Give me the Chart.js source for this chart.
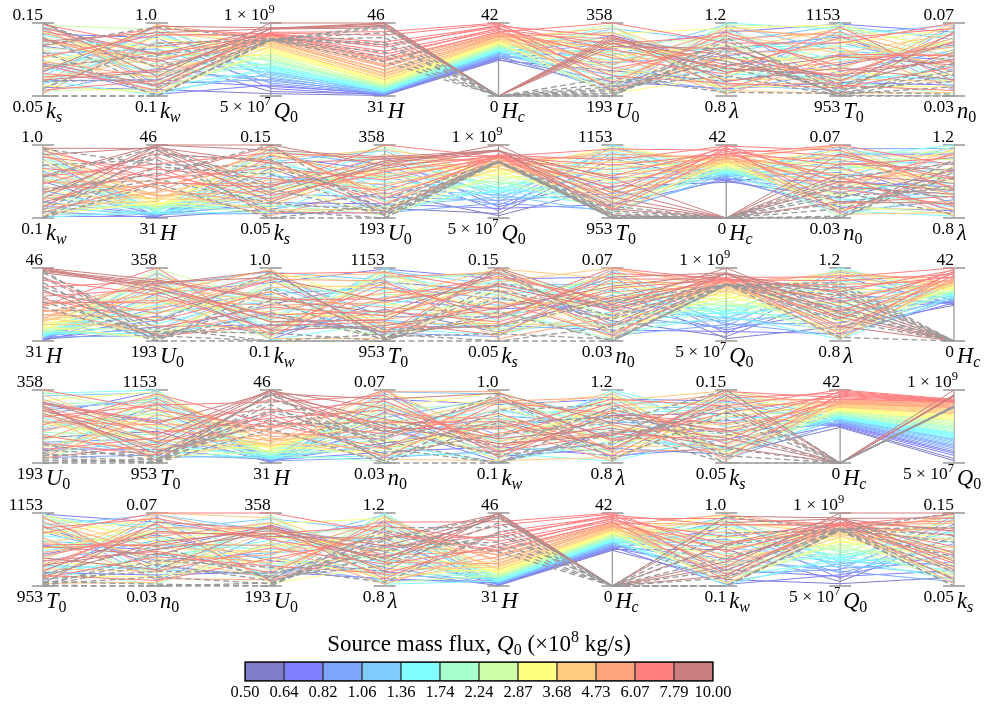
<!DOCTYPE html>
<html>
<head>
<meta charset="utf-8">
<script src="https://cdn.jsdelivr.net/npm/chart.js@4.4.1/dist/chart.umd.min.js"></script>
<style>
  body { margin: 0; background: #fff; }
  #wrap { position: relative; width: 992px; height: 706px; overflow: hidden; }
  #wrap canvas { position: absolute; left: 0; }
</style>
</head>
<body>
<div id="wrap">
  <canvas id="p0" width="992" height="124" style="top:0px"></canvas>
  <canvas id="p1" width="992" height="124" style="top:122px"></canvas>
  <canvas id="p2" width="992" height="124" style="top:245px"></canvas>
  <canvas id="p3" width="992" height="124" style="top:367px"></canvas>
  <canvas id="p4" width="992" height="124" style="top:490px"></canvas>
  <canvas id="cbar" width="992" height="86" style="top:620px"></canvas>
</div>
<script>
// one entry per model run; runs grouped by source flux bin, failed runs last
// Q0 in units of 1e8 kg/s
const Q0 = [
  0.55, 0.60,
  0.68, 0.74, 0.79,
  0.85, 0.92, 0.98, 1.03,
  1.10, 1.17, 1.24, 1.30, 1.34,
  1.40, 1.47, 1.53, 1.60, 1.66, 1.71,
  1.80, 1.92, 2.05, 2.18,
  2.30, 2.45, 2.62, 2.80,
  2.95, 3.10, 3.28, 3.45, 3.62,
  3.75, 3.95, 4.15, 4.35, 4.55, 4.70,
  4.85, 5.00, 5.20, 5.40, 5.60, 5.80, 6.00,
  6.10, 6.15, 6.20, 6.25, 6.30, 6.40, 6.50, 6.65, 6.85,
  7.80, 7.85, 7.95, 8.05, 8.20, 10.0,
  4.90, 5.00, 5.10, 5.00, 5.20, 4.95, 5.05, 5.15, 5.00
];
const H = [
  31.1, 31.4,
  31.2, 31.6, 31.3,
  31.5, 31.8, 31.4, 32.0,
  31.6, 32.1, 31.8, 32.4, 32.0,
  32.0, 32.3, 31.9, 32.6, 32.2, 32.8,
  32.5, 32.9, 33.2, 32.7,
  33.0, 33.4, 33.1, 33.8,
  33.5, 33.9, 34.2, 34.6, 34.0,
  34.4, 34.9, 35.3, 35.0, 35.8, 36.2,
  35.6, 36.4, 37.0, 37.5, 38.1, 37.2, 38.6,
  38.3, 39.6, 40.2, 39.0, 41.5, 42.1, 41.0, 43.5, 44.2,
  45.0, 45.5, 45.8, 46.0, 45.3, 46.0,
  38.0, 40.0, 41.5, 43.0, 44.0, 45.0, 45.5, 42.0, 39.0
];
const Hc = [
  20.5, 21.0,
  21.5, 22.0, 22.4,
  22.8, 23.2, 23.5, 24.0,
  24.2, 24.5, 24.9, 25.2, 25.5,
  25.6, 25.9, 26.2, 26.5, 26.8, 27.0,
  27.3, 27.7, 28.1, 28.5,
  28.8, 29.2, 29.6, 30.0,
  30.2, 30.6, 31.0, 31.4, 31.8,
  32.0, 32.4, 32.8, 33.2, 33.6, 34.0,
  34.2, 34.6, 35.0, 35.4, 35.8, 36.2, 36.6,
  36.8, 37.6, 38.4, 39.0, 39.6, 40.2, 40.8, 41.4, 42.0,
  0, 0, 0, 0, 0, 0,
  0, 0, 0, 0, 0, 0, 0, 0, 0
];
const ks = [
  0.062, 0.118,
  0.135, 0.071, 0.094,
  0.108, 0.056, 0.142, 0.083,
  0.127, 0.066, 0.099, 0.145, 0.078,
  0.088, 0.133, 0.059, 0.112, 0.071, 0.124,
  0.104, 0.141, 0.068, 0.091,
  0.147, 0.079, 0.116, 0.057,
  0.138, 0.096, 0.064, 0.121, 0.085,
  0.149, 0.074, 0.102, 0.131, 0.061, 0.113,
  0.087, 0.144, 0.069, 0.126, 0.097, 0.053, 0.136,
  0.092, 0.148, 0.076, 0.119, 0.058, 0.139, 0.104, 0.081, 0.128,
  0.072, 0.125, 0.095, 0.143, 0.084, 0.150,
  0.050, 0.150, 0.110, 0.060, 0.130, 0.050, 0.090, 0.120, 0.070
];
const kw = [
  0.18, 0.55,
  0.82, 0.30, 0.12,
  0.68, 0.44, 0.25, 0.90,
  0.36, 0.77, 0.15, 0.58, 0.95,
  0.22, 0.63, 0.87, 0.40, 0.11, 0.73,
  0.50, 0.28, 0.84, 0.66,
  0.92, 0.35, 0.60, 0.19,
  0.45, 0.81, 0.14, 0.70, 0.97,
  0.26, 0.57, 0.89, 0.38, 0.76, 0.13,
  0.64, 0.21, 0.98, 0.47, 0.33, 0.86, 0.54,
  0.17, 0.71, 0.42, 0.93, 0.29, 0.61, 0.85, 0.24, 0.52,
  0.40, 0.88, 0.23, 0.62, 0.96, 0.34,
  0.10, 0.45, 0.10, 0.75, 0.20, 0.10, 0.60, 0.95, 0.30
];
const U0 = [
  250, 215,
  300, 225, 330,
  268, 205, 312, 240,
  345, 220, 285, 258, 318,
  350, 232, 296, 210, 338, 275,
  262, 325, 200, 290,
  243, 308, 355, 218,
  282, 199, 334, 256, 304,
  228, 316, 270, 347, 212, 292,
  336, 246, 301, 207, 322, 264, 285,
  358, 238, 311, 279, 204, 328, 255, 297, 223,
  318, 326, 305, 331, 322, 312,
  193, 198, 205, 193, 214, 222, 200, 235, 209
];
const lam = [
  0.88, 1.06,
  1.15, 0.84, 0.97,
  1.02, 1.18, 0.90, 0.83,
  1.10, 0.95, 1.19, 0.86, 1.04,
  0.81, 1.13, 0.99, 1.20, 0.92, 1.07,
  1.16, 0.87, 1.01, 0.94,
  0.96, 1.12, 0.82, 1.19,
  1.08, 0.91, 1.17, 0.85, 1.00,
  1.14, 0.89, 1.05, 0.95, 1.18, 0.83,
  0.93, 1.11, 0.86, 1.03, 0.97, 1.16, 0.81,
  1.09, 0.87, 1.13, 0.92, 1.01, 0.84, 1.07, 0.96, 1.15,
  0.99, 0.93, 1.06, 0.88, 1.02, 0.95,
  1.08, 1.02, 0.96, 1.12, 0.91, 0.98, 1.05, 0.82, 1.10
];
const T0 = [
  1040, 1115,
  1150, 990, 1065,
  1100, 975, 1130, 1020,
  1145, 1010, 1075, 968, 1120,
  1153, 1050, 985, 1135, 1005, 1090,
  1030, 1125, 1060, 995,
  1110, 970, 1080, 1140,
  1015, 1095, 1148, 980, 1055,
  1070, 1000, 1138, 1025, 1105, 960,
  1045, 1128, 990, 1085, 1012, 1118, 1058,
  1098, 975, 1035, 1142, 1005, 1068, 982, 1112, 1022,
  978, 1062, 995, 1030, 960, 1010,
  953, 958, 953, 965, 953, 972, 955, 960, 985
];
const n0 = [
  0.058, 0.041,
  0.065, 0.036, 0.050,
  0.044, 0.068, 0.033, 0.055,
  0.061, 0.039, 0.052, 0.047, 0.069,
  0.034, 0.057, 0.046, 0.063, 0.040, 0.053,
  0.066, 0.043, 0.059, 0.031,
  0.049, 0.062, 0.037, 0.056,
  0.042, 0.067, 0.054, 0.035, 0.060,
  0.064, 0.038, 0.051, 0.070, 0.045, 0.032,
  0.057, 0.048, 0.069, 0.034, 0.062, 0.043, 0.053,
  0.070, 0.046, 0.059, 0.038, 0.064, 0.052, 0.033, 0.067, 0.049,
  0.054, 0.047, 0.060, 0.039, 0.065, 0.050,
  0.030, 0.035, 0.042, 0.031, 0.048, 0.038, 0.030, 0.044, 0.052
];
// 1 = run drawn as grey dashed line (last nine runs)
const failed = Q0.map((q, i) => (i >= Q0.length - 9 ? 1 : 0));

// axis definitions
const axisKeys     = ['ks', 'kw', 'Q0', 'H', 'Hc', 'U0', 'lam', 'T0', 'n0'];
const axisMin      = [0.05, 0.1, 0.5, 31, 0, 193, 0.8, 953, 0.03];
const axisMax      = [0.15, 1.0, 10, 46, 42, 358, 1.2, 1153, 0.07];
const axisLog      = [false, false, true, false, false, false, false, false, false];
const topLabels    = ['0.15', '1.0', '1 × 10^9', '46', '42', '358', '1.2', '1153', '0.07'];
const bottomLabels = ['0.05', '0.1', '5 × 10^7', '31', '0', '193', '0.8', '953', '0.03'];
const symbols      = [['k', 's'], ['k', 'w'], ['Q', '0'], ['H', ''], ['H', 'c'], ['U', '0'], ['λ', ''], ['T', '0'], ['n', '0']];

const panelOrders = [
  ['ks', 'kw', 'Q0', 'H', 'Hc', 'U0', 'lam', 'T0', 'n0'],
  ['kw', 'H', 'ks', 'U0', 'Q0', 'T0', 'Hc', 'n0', 'lam'],
  ['H', 'U0', 'kw', 'T0', 'ks', 'n0', 'Q0', 'lam', 'Hc'],
  ['U0', 'T0', 'H', 'n0', 'kw', 'lam', 'ks', 'Hc', 'Q0'],
  ['T0', 'n0', 'U0', 'lam', 'H', 'Hc', 'kw', 'Q0', 'ks']
];

// colour bar
const cbEdges  = [0.50, 0.64, 0.82, 1.06, 1.36, 1.74, 2.24, 2.87, 3.68, 4.73, 6.07, 7.79, 10.00];
const cbTicks  = ['0.50', '0.64', '0.82', '1.06', '1.36', '1.74', '2.24', '2.87', '3.68', '4.73', '6.07', '7.79', '10.00'];
const cbColors = ['#7f7fcc', '#7f7fff', '#7fa6ff', '#7fccff', '#7fffff', '#a6ffcc',
                  '#ccffa6', '#ffff7f', '#ffcc7f', '#ffa67f', '#ff7f7f', '#cc7f7f'];

const runs = { ks, kw, Q0, H, Hc, U0, lam, T0, n0 };
const SERIF = '"Liberation Serif", "DejaVu Serif", serif';
Chart.defaults.font.family = SERIF;
Chart.defaults.color = '#000';

function norm(key, v) {
  const i = axisKeys.indexOf(key);
  const lo = axisMin[i], hi = axisMax[i];
  if (axisLog[i]) return Math.log(v / lo) / Math.log(hi / lo);
  return (v - lo) / (hi - lo);
}

function binOf(q) {
  let b = 0;
  for (let i = 1; i < cbEdges.length - 1; i++) if (q >= cbEdges[i]) b = i;
  return b;
}

// draws a list of text pieces {t, size, italic, dy}
function drawPieces(ctx, pieces, x, y, align) {
  const widths = pieces.map(p => {
    ctx.font = (p.italic ? 'italic ' : '') + p.size + 'px ' + SERIF;
    return ctx.measureText(p.t).width;
  });
  const total = widths.reduce((a, b) => a + b, 0);
  let cx = align === 'right' ? x - total : align === 'center' ? x - total / 2 : x;
  ctx.textAlign = 'left';
  ctx.textBaseline = 'alphabetic';
  pieces.forEach((p, i) => {
    ctx.font = (p.italic ? 'italic ' : '') + p.size + 'px ' + SERIF;
    ctx.fillText(p.t, cx, y + (p.dy || 0));
    cx += widths[i];
  });
}

function numberPieces(label) {
  const [main, sup] = label.split('^');
  const p = [{ t: main, size: 17.5 }];
  if (sup) p.push({ t: sup, size: 12.5, dy: -7.5 });
  return p;
}

function makeAxisPlugin(order) {
  return {
    id: 'pcAxes',
    beforeDatasetsDraw(chart) {
      const { ctx, scales: { x, y } } = chart;
      const top = y.getPixelForValue(1), bot = y.getPixelForValue(0);
      ctx.save();
      order.forEach((k, j) => {
        const px = x.getPixelForValue(j);
        ctx.strokeStyle = '#9a9a9a';
        ctx.lineWidth = 1.3;
        ctx.beginPath(); ctx.moveTo(px, top); ctx.lineTo(px, bot); ctx.stroke();
        ctx.strokeStyle = '#b0b0b0';
        ctx.lineWidth = 2;
        ctx.beginPath();
        ctx.moveTo(px - 11, top); ctx.lineTo(px + 11, top);
        ctx.moveTo(px - 11, bot); ctx.lineTo(px + 11, bot);
        ctx.stroke();
      });
      ctx.restore();
    },
    afterDraw(chart) {
      const { ctx, scales: { x, y } } = chart;
      const top = y.getPixelForValue(1), bot = y.getPixelForValue(0);
      ctx.save();
      ctx.fillStyle = '#000';
      order.forEach((k, j) => {
        const i = axisKeys.indexOf(k);
        const px = x.getPixelForValue(j);
        const hasSup = topLabels[i].includes('^');
        drawPieces(ctx, numberPieces(topLabels[i]), px + (hasSup ? 4 : 0), top - 3, 'right');
        drawPieces(ctx, numberPieces(bottomLabels[i]), px, bot + 16, 'right');
        const [sym, sub] = symbols[i];
        const pieces = [{ t: sym, size: 22.5, italic: true }];
        if (sub) pieces.push({ t: sub, size: 16, italic: !/[0-9]/.test(sub), dy: 4 });
        drawPieces(ctx, pieces, px + 3, bot + 22, 'left');
      });
      ctx.restore();
    }
  };
}

panelOrders.forEach((order, p) => {
  const datasets = Q0.map((q, i) => ({
    data: order.map((k, j) => ({ x: j, y: norm(k, runs[k][i]) })),
    borderColor: failed[i] ? '#9a9a9a' : cbColors[binOf(q)],
    borderWidth: failed[i] ? 1.3 : 1,
    borderDash: failed[i] ? [6, 3.5] : [],
    pointRadius: 0,
    tension: 0,
    clip: false,
    order: failed[i] ? -100 : -q
  }));
  new Chart(document.getElementById('p' + p), {
    type: 'line',
    data: { datasets },
    options: {
      responsive: false,
      animation: false,
      events: [],
      layout: { padding: { left: 43, right: 38, top: 23, bottom: 28 } },
      plugins: { legend: { display: false }, tooltip: { enabled: false } },
      scales: {
        x: { type: 'linear', min: 0, max: 8, display: false },
        y: { type: 'linear', min: 0, max: 1, display: false }
      }
    },
    plugins: [makeAxisPlugin(order)]
  });
});

const cbarPlugin = {
  id: 'cbarFrame',
  afterDatasetsDraw(chart) {
    const { ctx, chartArea: a } = chart;
    ctx.save();
    ctx.strokeStyle = '#000';
    ctx.lineWidth = 1.3;
    ctx.strokeRect(a.left, a.top, a.right - a.left, a.bottom - a.top);
    ctx.restore();
  },
  afterDraw(chart) {
    const { ctx, chartArea: a } = chart;
    ctx.save();
    ctx.fillStyle = '#000';
    drawPieces(ctx, [
      { t: 'Source mass flux, ', size: 23 },
      { t: 'Q', size: 23, italic: true },
      { t: '0', size: 16, dy: 3.5 },
      { t: ' (×10', size: 23 },
      { t: '8', size: 16, dy: -9 },
      { t: ' kg/s)', size: 23 }
    ], (a.left + a.right) / 2, 31, 'center');
    ctx.restore();
  }
};

new Chart(document.getElementById('cbar'), {
  type: 'bar',
  data: {
    datasets: [{
      data: cbColors.map((c, i) => ({ x: i + 0.5, y: 1 })),
      backgroundColor: cbColors,
      borderColor: '#333',
      borderWidth: 1,
      borderSkipped: false,
      barPercentage: 1,
      categoryPercentage: 1
    }]
  },
  options: {
    responsive: false,
    animation: false,
    events: [],
    layout: { padding: { left: 245, right: 279, top: 42, bottom: 0 } },
    plugins: { legend: { display: false }, tooltip: { enabled: false } },
    scales: {
      x: {
        type: 'linear', min: 0, max: 12, offset: false,
        grid: { display: false, drawTicks: false },
        border: { display: false },
        ticks: { stepSize: 1, autoSkip: false, maxRotation: 0, padding: 2,
                 font: { size: 16.5 }, callback: v => cbTicks[v] },
        afterFit(s) { s.height = 25; }
      },
      y: { min: 0, max: 1, display: false }
    }
  },
  plugins: [cbarPlugin]
});
</script>
</body>
</html>
